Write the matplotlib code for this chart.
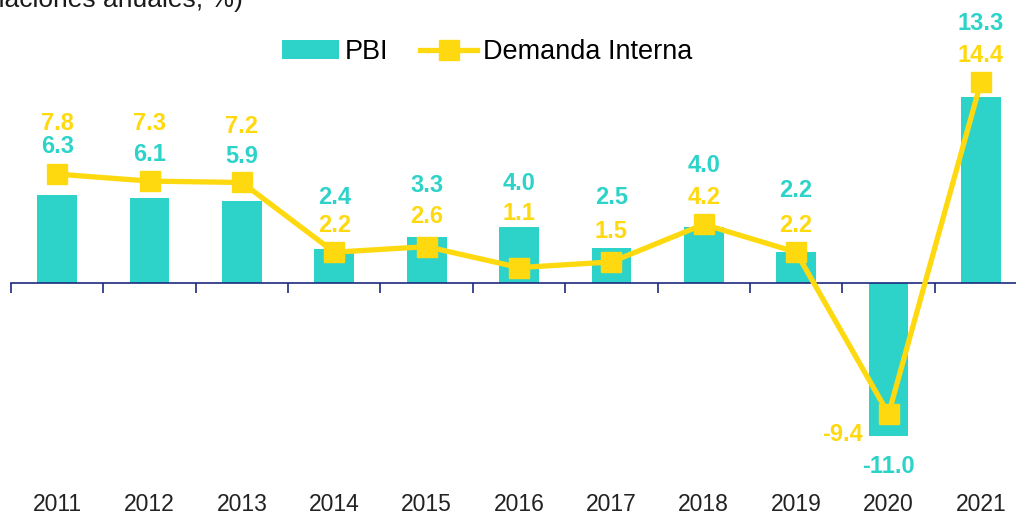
import numpy as np
import matplotlib
matplotlib.use("Agg")
import matplotlib.pyplot as plt
import matplotlib.transforms as mtransforms

plt.rcParams['font.family'] = ['Liberation Sans', 'DejaVu Sans']

years = ['2011', '2012', '2013', '2014', '2015', '2016', '2017', '2018', '2019', '2020', '2021']
pbi = [6.3, 6.1, 5.9, 2.4, 3.3, 4.0, 2.5, 4.0, 2.2, -11.0, 13.3]
demanda = [7.8, 7.3, 7.2, 2.2, 2.6, 1.1, 1.5, 4.2, 2.2, -9.4, 14.4]

# where the value labels sit (data units), as placed by hand in the original
pbi_lab_y = [9.75, 9.2, 9.05, 6.15, 6.95, 7.15, 6.1, 8.45, 6.6, -13.2, 18.6]
dem_lab_y = [11.45, 11.45, 11.2, 4.1, 4.75, 5.0, 3.65, 6.1, 4.1, -10.9, 16.3]
pbi_lab_dx = [0] * 9 + [0.0, 0.0]
dem_lab_dx = [0] * 9 + [-0.5, 0.0]

TURQ = '#2DD3C9'
YEL = '#FFD90F'
NAVY = '#1C2A7E'

fig = plt.figure(figsize=(10.16, 5.15), dpi=100)
ax = fig.add_axes([11 / 1016, (515 - 506) / 515, 1 - 11 / 1016, 502 / 515])

x = np.arange(len(years))
bars = ax.bar(x, pbi, width=0.43, color=TURQ, label='PBI', zorder=2)
line, = ax.plot(x, demanda, color=YEL, lw=3.8, marker='s', ms=15, label='Demanda Interna', zorder=3)

ax.set_xlim(-0.5, 10.38)
ax.set_ylim(-16, 20)

for s in ['top', 'right', 'left']:
    ax.spines[s].set_visible(False)
ax.spines['bottom'].set_position(('data', 0))
ax.spines['bottom'].set_color(NAVY)
ax.spines['bottom'].set_linewidth(1.2)
ax.spines['bottom'].set_zorder(2.5)
ax.set_yticks([])
ax.set_xticks(np.arange(-0.5, 10.5, 1.0))
ax.set_xticklabels([])
ax.tick_params(axis='x', direction='out', length=7, width=1.2, color=NAVY)

trans = mtransforms.blended_transform_factory(ax.transData, ax.transAxes)
for i, yr in enumerate(years):
    ax.text(i, 0.003, yr, transform=trans, ha='center', va='center',
            fontsize=16.5, color='#222222')

for i in range(len(years)):
    ax.text(i + pbi_lab_dx[i], pbi_lab_y[i], f'{pbi[i]:.1f}', ha='center', va='center',
            fontsize=17, fontweight='bold', color=TURQ, zorder=4)
    ax.text(i + dem_lab_dx[i], dem_lab_y[i], f'{demanda[i]:.1f}', ha='center', va='center',
            fontsize=17, fontweight='bold', color=YEL, zorder=4)

fig.text(243 / 1016, (515 - 7) / 515, '(variaciones anuales, %)', ha='right', va='baseline',
         fontsize=19, color='#1a1a1a')

fig.legend([bars, line], ['PBI', 'Demanda Interna'], loc='center',
           bbox_to_anchor=(487 / 1016, (515 - 52) / 515), ncol=2,
           frameon=False, fontsize=19.5, handlelength=2.1, handletextpad=0.2,
           columnspacing=1.2)

fig.savefig('out.png', dpi=100)
